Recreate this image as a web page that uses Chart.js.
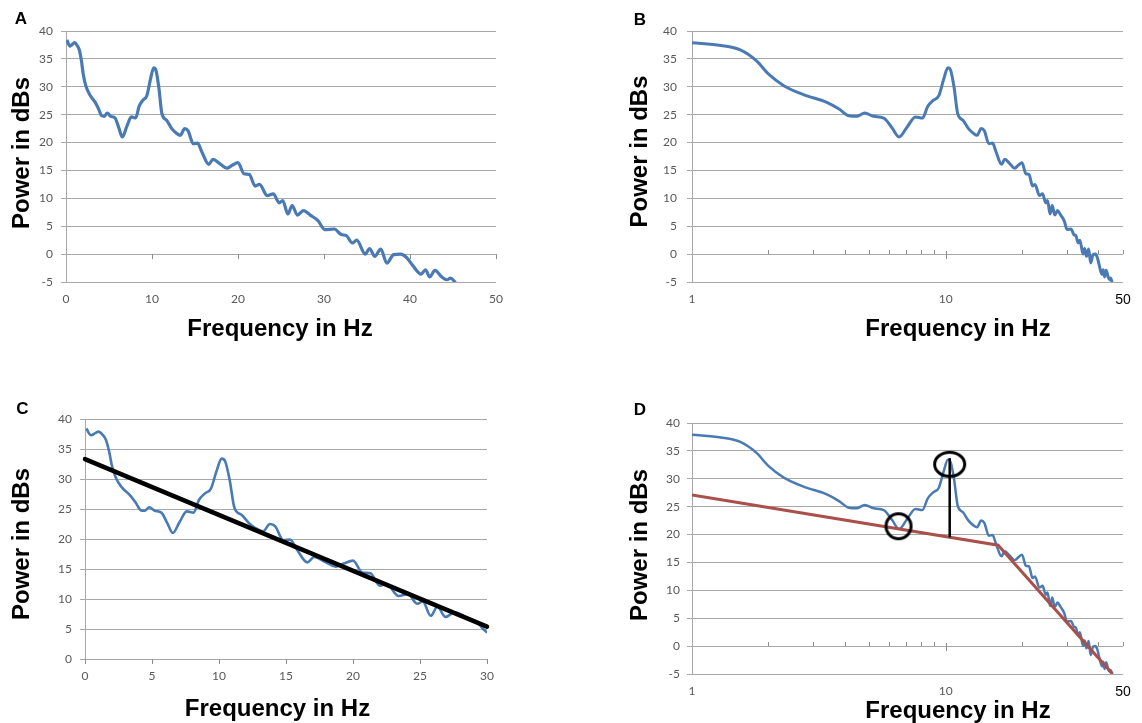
<!DOCTYPE html>
<html>
<head>
<meta charset="utf-8">
<title>Power spectrum panels A-D</title>
<script src="https://cdn.jsdelivr.net/npm/chart.js@4.4.1/dist/chart.umd.min.js"></script>
<style>
  html, body { margin: 0; padding: 0; background: #fff; }
  #page { position: relative; width: 1142px; height: 723px; overflow: hidden; }
  canvas { position: absolute; }
</style>
</head>
<body>
<div id="page">
  <canvas id="chartA" width="540" height="346" style="left:0;top:0"></canvas>
  <canvas id="chartB" width="542" height="346" style="left:600px;top:0"></canvas>
  <canvas id="chartC" width="540" height="343" style="left:0;top:380px"></canvas>
  <canvas id="chartD" width="542" height="343" style="left:600px;top:380px"></canvas>
</div>
<script>
// spectrum (same curve is used in every panel)
const freqHz = [0.1, 0.45, 0.8, 1.0, 1.3, 1.55, 1.8, 2.0, 2.3, 2.75,
  3.4, 3.8, 4.15, 4.45, 4.8, 5.2, 5.7, 6.15, 6.55, 7.05,
  7.6, 8.1, 8.5, 8.95, 9.4, 9.8, 10.2, 10.45, 10.8, 11.15,
  11.7, 12.3, 12.9, 13.3, 13.8, 14.2, 14.8, 15.3, 15.8, 16.6,
  17.1, 17.9, 18.7, 19.3, 20.0, 20.7, 21.3, 22.0, 22.5, 23.4,
  24.1, 24.8, 25.2, 25.8, 26.3, 26.9, 27.6, 28.4, 29.3, 30.1,
  31.2, 32.0, 32.6, 33.3, 33.8, 34.8, 35.3, 35.9, 36.6, 37.3,
  38.1, 38.9, 39.6, 40.3, 41.3, 41.8, 42.3, 42.9, 43.7, 44.3,
  44.7, 45.3];
const powerDb = [38.4, 37.3, 37.7, 37.9, 37.4, 36.6, 34.6, 32.3, 30.2, 28.6,
  27.2, 26.0, 24.8, 24.7, 25.3, 24.7, 24.4, 22.6, 21.0, 22.8,
  24.6, 24.4, 26.5, 27.6, 28.4, 31.2, 33.4, 33.0, 29.8, 25.2,
  24.0, 22.5, 21.6, 21.3, 22.5, 22.1, 19.8, 19.9, 18.3, 16.1,
  17.0, 16.2, 15.4, 15.9, 16.4, 14.4, 14.3, 12.2, 12.5, 10.5,
  10.8, 9.2, 9.6, 7.2, 8.7, 7.0, 7.8, 7.0, 6.0, 4.4,
  4.5, 3.5, 3.3, 2.0, 2.5, 0.0, 1.0, -0.4, 0.9, -1.6,
  -0.1, 0.0, -0.6, -2.0, -3.6, -2.8, -4.1, -2.9, -4.1, -4.6,
  -4.3, -5.1];

// panel C: straight fit
const fitFreqC = [0, 30];
const fitPowerC = [33.3, 5.4];

// panel D: broken-line fit, peak marker and the two rings
const fitFreqD = [1, 16.1, 45.5];
const fitPowerD = [27.1, 18.1, -5.0];
const peakFreqD = [10.37, 10.37];
const peakPowerD = [19.5, 33.7];
const ringFreqD = [10.37, 6.52];
const ringPowerD = [32.6, 21.5];

// axis ticks
const logLabelTicks = [1, 10, 50];
const logMajorTicks = [10];
const logMinorTicks = [2, 3, 4, 5, 6, 7, 8, 9, 20, 30, 40, 50];
const zeroTicksA = [10, 20, 30, 40, 50];
const zeroTicksC = [0, 5, 10, 15, 20, 25, 30];

const BLUE = '#4a7ab3';
const RED = '#aa4f4a';
const GRID = '#a8a8a8';
const TICK_TEXT = '#595959';
const SANS = '"Liberation Sans", Arial, sans-serif';

function pts(xs, ys) {
    return xs.map((x, i) => ({ x: x, y: ys[i] }));
}

function ring(w, h) {
    const c = document.createElement('canvas');
    c.width = w + 2;
    c.height = h + 2;
    const g = c.getContext('2d');
    g.strokeStyle = '#000';
    g.lineWidth = 3;
    g.beginPath();
    g.ellipse(c.width / 2, c.height / 2, w / 2 - 1.5, h / 2 - 1.5, 0, 0, Math.PI * 2);
    g.stroke();
    return c;
}

// tick marks sitting on the y = 0 line
const zeroTicks = {
    id: 'zeroTicks',
    beforeDatasetsDraw(chart, args, o) {
        const { ctx, scales: { x, y } } = chart;
        const y0 = y.getPixelForValue(0);
        ctx.save();
        ctx.strokeStyle = '#8c8c8c';
        ctx.lineWidth = 1;
        ctx.beginPath();
        o.major.forEach(v => {
            const px = Math.round(x.getPixelForValue(v)) + 0.5;
            ctx.moveTo(px, y0 - o.up);
            ctx.lineTo(px, y0 + o.down);
        });
        o.minor.forEach(v => {
            const px = Math.round(x.getPixelForValue(v)) + 0.5;
            ctx.moveTo(px, y0 - 4);
            ctx.lineTo(px, y0);
        });
        ctx.stroke();
        ctx.restore();
    }
};

// panel letter and the two bold axis titles
const panelText = {
    id: 'panelText',
    afterDraw(chart, args, o) {
        const a = chart.chartArea, ctx = chart.ctx;
        const midX = (a.left + a.right) / 2, midY = (a.top + a.bottom) / 2;
        ctx.save();
        ctx.fillStyle = '#000';
        ctx.textAlign = 'center';
        ctx.textBaseline = 'middle';
        ctx.font = 'bold 17px ' + SANS;
        ctx.fillText(o.letter, a.left + o.letterAt[0], a.top + o.letterAt[1]);
        ctx.font = 'bold 24px ' + SANS;
        ctx.fillText('Frequency in Hz', midX + o.xTitleAt[0], a.bottom + o.xTitleAt[1]);
        ctx.translate(a.left + o.yTitleAt[0], midY + o.yTitleAt[1]);
        ctx.rotate(-Math.PI / 2);
        ctx.fillText('Power in dBs', 0, 0);
        ctx.restore();
    }
};

function panelOptions(p) {
    const isFifty = ctx => p.log && ctx.tick && ctx.tick.value === 50;
    return {
        responsive: false,
        animation: false,
        layout: { padding: { left: 0, top: p.top, right: p.right, bottom: 0 } },
        plugins: {
            legend: { display: false },
            tooltip: { enabled: false },
            zeroTicks: { major: p.major, minor: p.minor, up: p.up, down: p.down },
            panelText: p.text
        },
        scales: {
            x: {
                type: p.log ? 'logarithmic' : 'linear',
                min: p.xMin,
                max: p.xMax,
                afterFit: s => { s.height = p.xHeight; },
                afterBuildTicks: p.log ? s => { s.ticks = logLabelTicks.map(v => ({ value: v })); } : undefined,
                grid: { display: false, drawTicks: false },
                border: { display: false },
                ticks: {
                    stepSize: p.xStep,
                    autoSkip: false,
                    maxRotation: 0,
                    padding: 10,
                    color: ctx => isFifty(ctx) ? '#000' : TICK_TEXT,
                    font: ctx => isFifty(ctx) ? { family: SANS, size: 14 } : { family: 'Lato', size: 12 },
                    callback: v => String(v)
                }
            },
            y: {
                min: p.yMin,
                max: 40,
                afterFit: s => { s.width = p.yWidth; },
                grid: { color: GRID, lineWidth: 1, drawTicks: true, tickLength: 5 },
                border: { display: true, color: GRID, width: 1 },
                ticks: { stepSize: 5, padding: p.yPad, color: TICK_TEXT, font: { family: 'Lato', size: 12 } }
            }
        }
    };
}

function spectrum(minFreq, width) {
    const data = pts(freqHz, powerDb).filter(d => d.x >= minFreq);
    return {
        data: data,
        borderColor: BLUE,
        borderWidth: width,
        borderJoinStyle: 'round',
        pointRadius: 0,
        cubicInterpolationMode: 'monotone',
        fill: false,
        order: 3
    };
}

document.addEventListener('DOMContentLoaded', function() {
    // A: linear frequency axis
    new Chart(document.getElementById('chartA'), {
        type: 'line',
        data: { datasets: [spectrum(0, 3.2)] },
        options: panelOptions({
            log: false, xMin: 0, xMax: 50, xStep: 10, yMin: -5,
            top: 31, right: 44, yWidth: 66, xHeight: 64, yPad: 8,
            major: zeroTicksA, minor: [], up: 0, down: 5,
            text: { letter: 'A', letterAt: [-45, -12], yTitleAt: [-44, -3.5], xTitleAt: [-1, 47] }
        }),
        plugins: [zeroTicks, panelText]
    });

    // B: log frequency axis
    new Chart(document.getElementById('chartB'), {
        type: 'line',
        data: { datasets: [spectrum(1, 3)] },
        options: panelOptions({
            log: true, xMin: 1, xMax: 50, yMin: -5,
            top: 31, right: 19, yWidth: 92, xHeight: 64, yPad: 10,
            major: logMajorTicks, minor: logMinorTicks, up: 3, down: 5,
            text: { letter: 'B', letterAt: [-52, -11], yTitleAt: [-52, -5], xTitleAt: [50.5, 47] }
        }),
        plugins: [zeroTicks, panelText]
    });

    // C: linear axis to 30 Hz with a straight fit
    new Chart(document.getElementById('chartC'), {
        type: 'line',
        data: {
            datasets: [{
                data: pts(fitFreqC, fitPowerC),
                borderColor: '#000',
                borderWidth: 4.5,
                borderCapStyle: 'round',
                pointRadius: 0,
                tension: 0,
                clip: 4,
                order: 1
            }, spectrum(0, 2.6)]
        },
        options: panelOptions({
            log: false, xMin: 0, xMax: 30, xStep: 5, yMin: 0,
            top: 39, right: 53, yWidth: 85, xHeight: 64, yPad: 8,
            major: zeroTicksC, minor: [], up: 0, down: 5,
            text: { letter: 'C', letterAt: [-62.5, -9.5], yTitleAt: [-62.5, 5], xTitleAt: [-8.5, 50] }
        }),
        plugins: [zeroTicks, panelText]
    });

    // D: log axis with broken-line fit, peak height and rings
    new Chart(document.getElementById('chartD'), {
        type: 'line',
        data: {
            datasets: [{
                data: pts(ringFreqD, ringPowerD),
                showLine: false,
                pointStyle: [ring(33, 27), ring(28, 28)],
                pointRadius: 14,
                order: 0
            }, {
                data: pts(peakFreqD, peakPowerD),
                borderColor: '#000',
                borderWidth: 2.5,
                pointRadius: 0,
                tension: 0,
                order: 1
            }, {
                data: pts(fitFreqD, fitPowerD),
                borderColor: RED,
                borderWidth: 3,
                pointRadius: 0,
                tension: 0,
                order: 2
            }, spectrum(1, 2.5)]
        },
        options: panelOptions({
            log: true, xMin: 1, xMax: 50, yMin: -5,
            top: 43, right: 19, yWidth: 92, xHeight: 49, yPad: 7,
            major: logMajorTicks, minor: logMinorTicks, up: 3, down: 5,
            text: { letter: 'D', letterAt: [-52, -13], yTitleAt: [-52, -3.5], xTitleAt: [50.5, 37] }
        }),
        plugins: [zeroTicks, panelText]
    });
});
</script>
</body>
</html>
